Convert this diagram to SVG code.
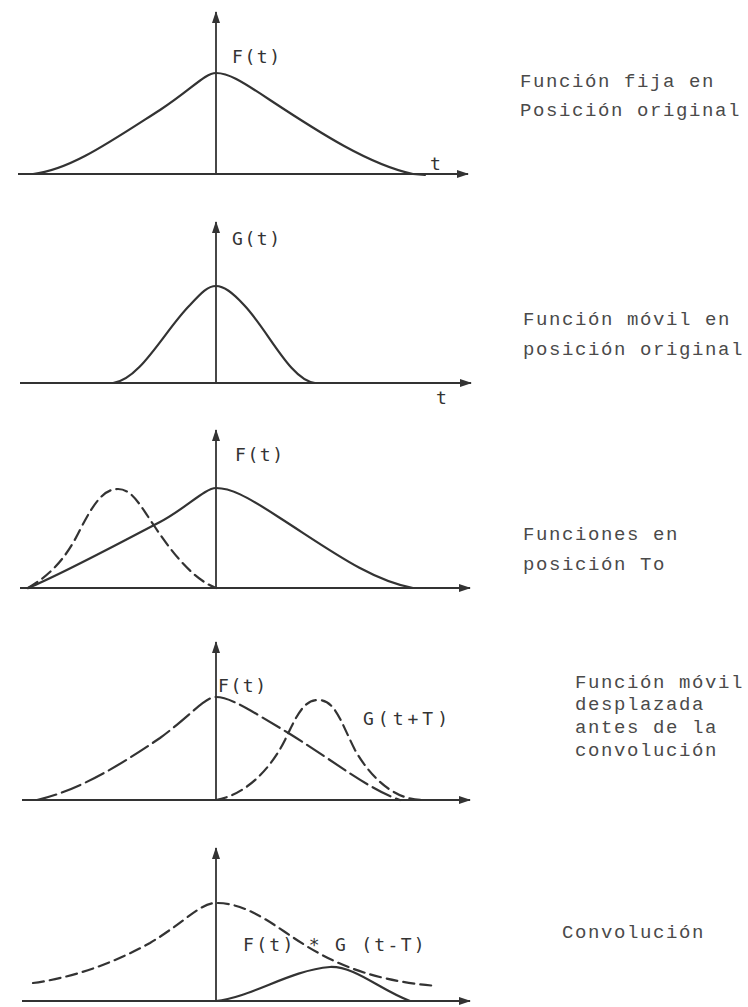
<svg xmlns="http://www.w3.org/2000/svg" width="748" height="1007" viewBox="0 0 748 1007">
<style>
.ax{stroke:#333;stroke-width:1.8;fill:none}
.cv{stroke:#333;stroke-width:2.2;fill:none;stroke-linecap:round;stroke-linejoin:round}
.dl{stroke-dasharray:20 6}
.ds{stroke-dasharray:11 6}
.lb{font-family:"DejaVu Sans Mono","Liberation Mono",monospace;font-size:18px;fill:#333;letter-spacing:1.6px}
.tx{font-family:"Liberation Mono","DejaVu Sans Mono",monospace;font-size:19px;fill:#4a4a4a;letter-spacing:1.6px}
</style>
<defs>
<marker id="ah" viewBox="0 0 12 8" refX="11" refY="4" markerWidth="12" markerHeight="8" markerUnits="userSpaceOnUse" orient="auto">
<path d="M0,0 L12,4 L0,8 Z" fill="#333"/>
</marker>
</defs>
<rect width="748" height="1007" fill="#fff"/>

<g id="connectors">
<line class="ax" x1="18" y1="174" x2="468" y2="174" marker-end="url(#ah)"/>
<line class="ax" x1="216" y1="174" x2="216" y2="12" marker-end="url(#ah)"/>
<line class="ax" x1="20" y1="383" x2="471" y2="383" marker-end="url(#ah)"/>
<line class="ax" x1="216" y1="383" x2="216" y2="222" marker-end="url(#ah)"/>
<line class="ax" x1="20" y1="588" x2="470" y2="588" marker-end="url(#ah)"/>
<line class="ax" x1="216" y1="588" x2="216" y2="430" marker-end="url(#ah)"/>
<line class="ax" x1="22" y1="800" x2="470" y2="800" marker-end="url(#ah)"/>
<line class="ax" x1="216" y1="800" x2="216" y2="642" marker-end="url(#ah)"/>
<line class="ax" x1="22" y1="1001" x2="470" y2="1001" marker-end="url(#ah)"/>
<line class="ax" x1="216" y1="1001" x2="216" y2="848" marker-end="url(#ah)"/>
</g>

<g id="panel1">
<path class="cv" d="M33,174 C70,170 110,142 160,110 C192,89 205,73 216,73 C228,73 240,80 270,100 C320,133 370,165 413,174 L425,175"/>
<text class="lb" x="232" y="63">F(t)</text>
<text class="lb" x="430" y="170">t</text>
<text class="tx" x="520" y="87">Función fija en</text>
<text class="tx" x="520" y="116">Posición original</text>
</g>

<g id="panel2">
<path class="cv" d="M113,383 C140,380 165,330 190,305 C202,292 208,286 216,286 C224,286 232,292 244,305 C268,330 290,380 315,383"/>
<text class="lb" x="232" y="245">G(t)</text>
<text class="lb" x="436" y="404">t</text>
<text class="tx" x="523" y="325">Función móvil en</text>
<text class="tx" x="523" y="355">posición original</text>
</g>

<g id="panel3">
<path class="cv" d="M28,588 C60,575 110,548 160,522 C185,509 205,488 216,488 C230,488 245,495 280,518 C330,550 370,580 413,588 L425,588"/>
<path class="cv ds" d="M28,588 C50,575 65,560 80,530 C95,500 105,489 118,489 C132,489 140,505 155,527 C175,557 195,580 216,588"/>
<text class="lb" x="235" y="461">F(t)</text>
<text class="tx" x="523" y="540">Funciones en</text>
<text class="tx" x="523" y="570">posición To</text>
</g>

<g id="panel4">
<path class="cv dl" d="M37,800 C80,790 120,765 160,738 C190,716 205,697 216,697 C230,697 250,710 290,734 C335,762 370,790 400,800"/>
<path class="cv ds" d="M216,800 C245,795 270,770 285,740 C298,712 305,700 318,700 C335,700 340,720 355,750 C375,785 400,800 422,800"/>
<text class="lb" x="218" y="692">F(t)</text>
<text class="lb" x="363" y="725" style="letter-spacing:4px">G(t+T)</text>
<text class="tx" x="575" y="688">Función móvil</text>
<text class="tx" x="575" y="710">desplazada</text>
<text class="tx" x="575" y="733">antes de la</text>
<text class="tx" x="575" y="756">convolución</text>
</g>

<g id="panel5">
<path class="cv ds" d="M33,983 C70,978 110,965 150,943 C185,922 200,903 216,903 C240,903 260,915 285,932 C320,956 360,980 437,986"/>
<path class="cv" d="M216,1001 C250,998 290,970 330,967 C355,966 380,990 410,1001 L425,1001"/>
<text class="lb" x="243" y="951" style="letter-spacing:2.3px">F(t) * G (t-T)</text>
<text class="tx" x="562" y="938">Convolución</text>
</g>
</svg>
